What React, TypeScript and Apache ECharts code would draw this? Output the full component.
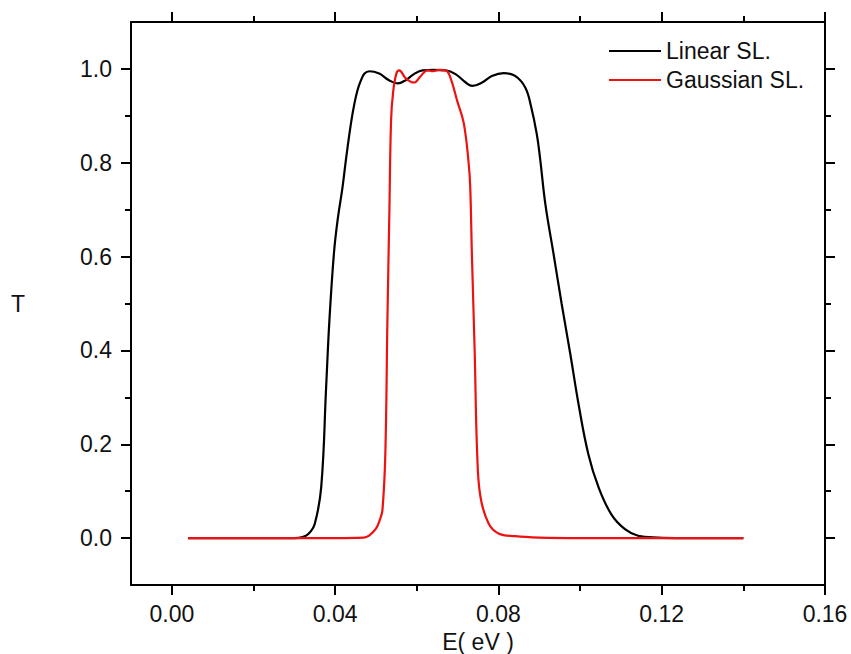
import React, { useEffect, useRef } from "react";
import * as echarts from "echarts";

// Linear SL. curve (E in eV, T)
const linearE = [0.004, 0.02, 0.03, 0.032, 0.0335, 0.035, 0.0366, 0.0378, 0.0386, 0.0397, 0.0406, 0.0418, 0.0427, 0.0439, 0.0447, 0.0455, 0.0463, 0.0472, 0.0484, 0.0508, 0.0532, 0.0553, 0.0573, 0.0593, 0.0614, 0.0642, 0.0671, 0.0695, 0.072, 0.0736, 0.076, 0.0784, 0.0813, 0.0841, 0.0866, 0.088, 0.0894, 0.0902, 0.0915, 0.0935, 0.0955, 0.0976, 0.0996, 0.102, 0.1045, 0.1077, 0.111, 0.1142, 0.119, 0.125, 0.14];
const linearT = [0, 0, 0, 0.002, 0.009, 0.03, 0.109, 0.322, 0.464, 0.606, 0.677, 0.747, 0.81, 0.885, 0.925, 0.955, 0.975, 0.99, 0.995, 0.99, 0.976, 0.969, 0.976, 0.989, 0.997, 0.998, 0.997, 0.989, 0.971, 0.964, 0.971, 0.985, 0.991, 0.985, 0.96, 0.92, 0.861, 0.81, 0.712, 0.606, 0.499, 0.393, 0.287, 0.18, 0.109, 0.05, 0.019, 0.005, 0.001, 0, 0];

// Gaussian SL. curve
const gaussE = [0.004, 0.02, 0.04, 0.047, 0.0484, 0.05, 0.051, 0.0516, 0.0523, 0.0528, 0.0533, 0.0537, 0.0542, 0.055, 0.0557, 0.0573, 0.0593, 0.061, 0.0626, 0.064, 0.0655, 0.0671, 0.0683, 0.0699, 0.0715, 0.0727, 0.0731, 0.0735, 0.0742, 0.0748, 0.0756, 0.0776, 0.08, 0.0841, 0.09, 0.1, 0.14];
const gaussT = [0, 0, 0, 0.001, 0.006, 0.02, 0.04, 0.06, 0.18, 0.46, 0.7, 0.889, 0.95, 0.99, 0.997, 0.98, 0.971, 0.985, 0.997, 0.995, 0.998, 0.997, 0.98, 0.932, 0.885, 0.8, 0.747, 0.606, 0.393, 0.18, 0.088, 0.031, 0.01, 0.004, 0.001, 0, 0];

const xMajor = [0, 0.04, 0.08, 0.12, 0.16];
const xMinor = [0.02, 0.06, 0.1, 0.14];
const yMajor = [0, 0.2, 0.4, 0.6, 0.8, 1.0];
const yMinor = [0.1, 0.3, 0.5, 0.7, 0.9];

const seriesNames = ["Linear SL.", "Gaussian SL."];

const FONT = "'Liberation Sans', Arial, sans-serif";
const TXT = "#111";

function zip(a: number[], b: number[]) {
  return a.map((v, i) => [v, b[i]]);
}

export default function App() {
  const ref = useRef<HTMLDivElement>(null);
  useEffect(() => {
    if (!ref.current) return;
    const chart = echarts.init(ref.current, undefined, { renderer: "svg" });
    const lineStyle = { color: "#000", width: 2 };
    const mkX = (position: "bottom" | "top", ticks: number[], len: number, labels: boolean, showLine: boolean, name?: string) => ({
      type: "value",
      position,
      min: -0.01,
      max: 0.16,
      name,
      nameLocation: "middle",
      nameGap: 45,
      nameTextStyle: { fontSize: 23, fontFamily: FONT, color: TXT },
      axisLine: { show: showLine, onZero: false, lineStyle },
      axisTick: { show: true, inside: false, length: len, customValues: ticks, lineStyle },
      axisLabel: labels
        ? { show: true, customValues: ticks, margin: 17, fontSize: 23, fontFamily: FONT, color: TXT, formatter: (v: number) => v.toFixed(2) }
        : { show: false },
      splitLine: { show: false },
    });
    const mkY = (position: "left" | "right", ticks: number[], len: number, labels: boolean, showLine: boolean, name?: string) => ({
      type: "value",
      position,
      min: -0.1,
      max: 1.1,
      name,
      nameLocation: "middle",
      nameRotate: 0,
      nameGap: 106,
      nameTextStyle: { fontSize: 23, fontFamily: FONT, color: TXT, padding: [9, 0, 0, 0] },
      axisLine: { show: showLine, onZero: false, lineStyle },
      axisTick: { show: true, inside: false, length: len, customValues: ticks, lineStyle },
      axisLabel: labels
        ? { show: true, customValues: ticks, margin: 19, fontSize: 23, fontFamily: FONT, color: TXT, formatter: (v: number) => v.toFixed(1) }
        : { show: false },
      splitLine: { show: false },
    });
    chart.setOption({
      animation: false,
      backgroundColor: "#fff",
      grid: { left: 131, right: 26, top: 22, bottom: 69, containLabel: false, outerBoundsMode: "none" },
      legend: {
        data: seriesNames,
        orient: "vertical",
        left: 609,
        top: 38,
        padding: 0,
        icon: "rect",
        itemWidth: 52,
        itemHeight: 2,
        itemGap: 3,
        textStyle: { fontSize: 23, fontFamily: FONT, color: TXT, lineHeight: 26 },
      },
      xAxis: [
        mkX("bottom", xMajor, 10, true, true, "E( eV )"),
        mkX("bottom", xMinor, 6, false, false),
        mkX("top", xMajor, 10, false, true),
        mkX("top", xMinor, 6, false, false),
      ],
      yAxis: [
        mkY("left", yMajor, 10, true, true, "T"),
        mkY("left", yMinor, 6, false, false),
        mkY("right", yMajor, 10, false, true),
        mkY("right", yMinor, 6, false, false),
      ],
      series: [
        {
          name: seriesNames[0],
          type: "line",
          data: zip(linearE, linearT),
          showSymbol: false,
          symbol: "none",
          smooth: 0.4,
          lineStyle: { color: "#000", width: 2.2 },
          itemStyle: { color: "#000" },
          z: 2,
        },
        {
          name: seriesNames[1],
          type: "line",
          data: zip(gaussE, gaussT),
          showSymbol: false,
          symbol: "none",
          smooth: 0.4,
          lineStyle: { color: "#ee1111", width: 2.2 },
          itemStyle: { color: "#ee1111" },
          z: 3,
        },
      ],
    });
    return () => chart.dispose();
  }, []);
  return <div ref={ref} style={{ width: 851, height: 654, position: "absolute", left: 0, top: 0 }} />;
}
